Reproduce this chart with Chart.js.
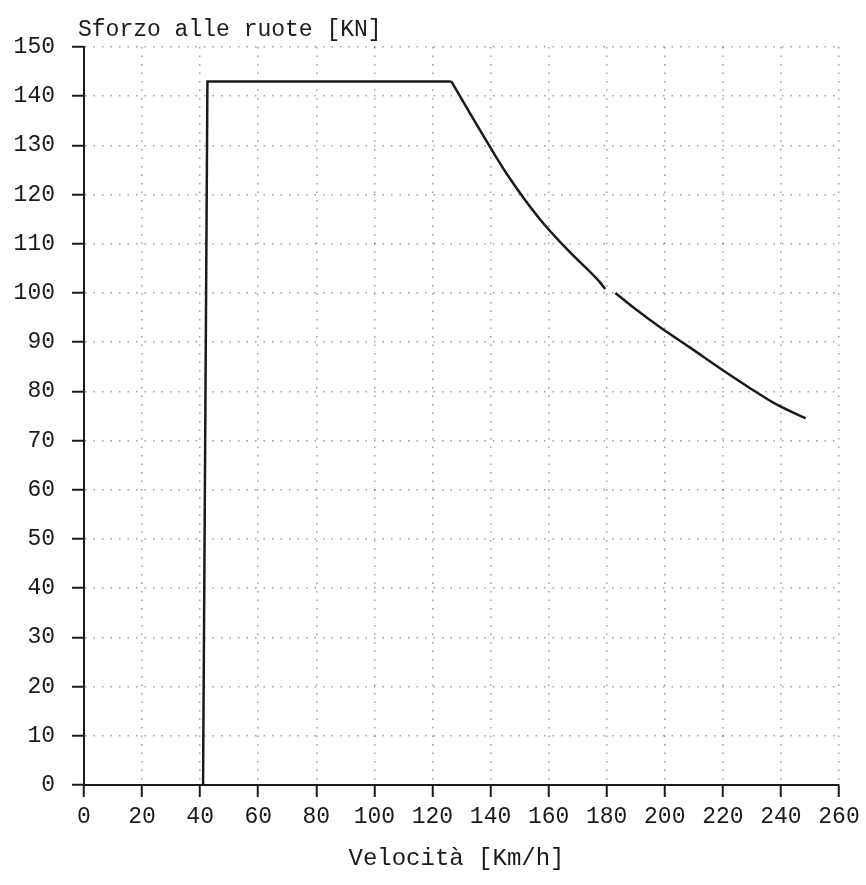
<!DOCTYPE html>
<html>
<head>
<meta charset="utf-8">
<script src="https://cdn.jsdelivr.net/npm/chart.js@4.4.1/dist/chart.umd.min.js"></script>
<style>
  html,body{margin:0;padding:0;background:#fff;}
  #wrap{width:866px;height:885px;}
</style>
</head>
<body>
<div id="wrap"><canvas id="myCanvas" width="866" height="885"></canvas></div>
<script>
// speed [km/h] and tractive effort [kN]
// adhesion limit: vertical rise then flat top
var limitSpeeds = [41, 42.5, 126.5];
var limitEfforts = [0, 143, 143];
// constant power part (the scan has a small break near 180 km/h)
var powerSpeeds = [126.5, 137.5, 145.5, 157, 167, 177.5, 179.5, 181, 183, 190, 198.5, 208.5, 219, 229, 238, 248.5];
var powerEfforts = [143, 132, 124.3, 115, 108.5, 102.3, 100.8, null, 100, 96.7, 93, 89, 84.7, 80.8, 77.5, 74.5];

var xMin = 0, xMax = 260, xStep = 20;
var yMin = 0, yMax = 150, yStep = 10;
var yTitle = 'Sforzo alle ruote [KN]';
var xTitle = 'Velocità [Km/h]';

var FONT = "'Liberation Mono', 'DejaVu Sans Mono', monospace";
var INK = '#1a1a1a';

function toPoints(xs, ys){
  return xs.map(function(v, i){ return {x: v, y: ys[i]}; });
}

// axis captions drawn as plain text, like the typed labels on the sheet
var captions = {
  id: 'captions',
  afterDraw: function(chart){
    var c = chart.ctx, a = chart.chartArea;
    c.save();
    c.fillStyle = INK;
    c.font = '23px ' + FONT;
    c.textAlign = 'left';
    c.textBaseline = 'alphabetic';
    c.fillText(yTitle, a.left - 6, a.top - 11);
    c.font = '24px ' + FONT;
    c.textAlign = 'center';
    c.fillText(xTitle, (a.left + a.right) / 2 - 5, a.bottom + 80);
    c.restore();
  }
};

var gridOpts = {
  color: 'rgba(0,0,0,0.38)', lineWidth: 1.5,
  tickColor: INK, tickWidth: 2, tickLength: 12, tickBorderDash: []
};
var borderOpts = {display: true, color: INK, width: 2, dash: [1.5, 7]};

var ctx = document.getElementById('myCanvas');
var myChart = new Chart(ctx, {
  type: 'line',
  data: {
    datasets: [{
      data: toPoints(limitSpeeds, limitEfforts),
      borderColor: INK,
      borderWidth: 2.5,
      pointRadius: 0,
      fill: false,
      tension: 0
    }, {
      data: toPoints(powerSpeeds, powerEfforts),
      borderColor: INK,
      borderWidth: 2.5,
      pointRadius: 0,
      fill: false,
      cubicInterpolationMode: 'monotone',
      spanGaps: false
    }]
  },
  options: {
    responsive: false,
    animation: false,
    layout: {padding: {top: 47, right: 27, bottom: 0, left: 0}},
    plugins: {legend: {display: false}, tooltip: {enabled: false}, title: {display: false}},
    scales: {
      x: {
        type: 'linear',
        min: xMin, max: xMax,
        afterFit: function(s){ s.height = 100; },
        ticks: {stepSize: xStep, color: INK, font: {family: FONT, size: 23}, padding: 6, maxRotation: 0},
        grid: gridOpts,
        border: borderOpts
      },
      y: {
        min: yMin, max: yMax,
        afterFit: function(s){ s.width = 84; },
        ticks: {stepSize: yStep, color: INK, font: {family: FONT, size: 23}, padding: 17},
        grid: gridOpts,
        border: borderOpts
      }
    }
  },
  plugins: [captions]
});
</script>
</body>
</html>
